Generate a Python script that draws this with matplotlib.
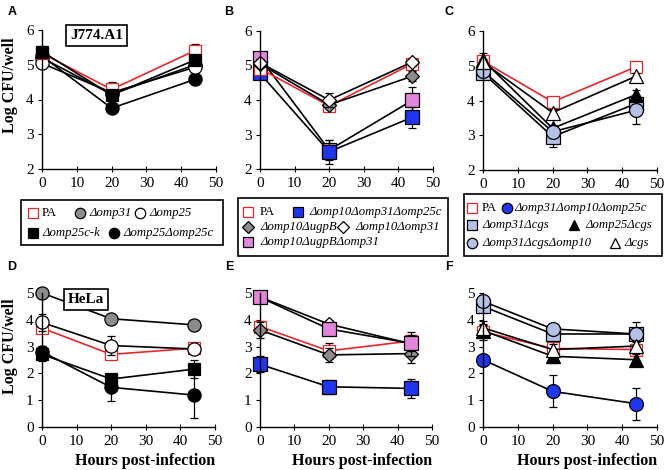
import matplotlib
matplotlib.use("Agg")
import matplotlib.pyplot as plt
from matplotlib.lines import Line2D
from matplotlib.patches import Rectangle

plt.rcParams['font.family'] = ['Liberation Serif', 'DejaVu Serif']

# sampling times (hours post-infection)
hours = [0, 20, 44]

# Panel A - J774.A1
a_pa = [5.33, 4.29, 5.41]
a_pa_err = [0.15, 0.22, 0.2]
a_omp31 = [5.2, 4.15, 5.0]
a_omp31_err = [0.1, 0.1, 0.1]
a_omp25 = [5.04, 4.2, 4.93]
a_omp25_err = [0.1, 0.1, 0.1]
a_omp25ck = [5.38, 4.13, 5.14]
a_omp25ck_err = [0.15, 0.1, 0.1]
a_omp25c = [5.25, 3.75, 4.58]
a_omp25c_err = [0.1, 0.1, 0.08]

# Panel B - J774.A1
b_pa = [4.91, 3.83, 5.05]
b_pa_err = [0.1, 0.12, 0.1]
b_tri = [4.77, 2.5, 3.5]
b_tri_err = [0.1, 0.35, 0.3]
b_ugpb = [5.05, 3.86, 4.69]
b_ugpb_err = [0.1, 0.1, 0.15]
b_o10o31 = [5.08, 4.0, 5.1]
b_o10o31_err = [0.1, 0.2, 0.1]
b_ugpbo31 = [5.22, 2.55, 3.99]
b_ugpbo31_err = [0.1, 0.3, 0.4]

# Panel C - J774.A1
c_pa = [5.13, 3.96, 4.97]
c_pa_err = [0.15, 0.1, 0.1]
c_o31cgs = [4.79, 2.96, 3.91]
c_o31cgs_err = [0.1, 0.3, 0.2]
c_o25cgs = [5.16, 3.2, 4.17]
c_o25cgs_err = [0.2, 0.1, 0.12]
c_o31cgso10 = [4.85, 3.1, 3.72]
c_o31cgso10_err = [0.1, 0.15, 0.4]
c_cgs = [5.1, 3.65, 4.7]
c_cgs_err = [0.1, 0.1, 0.1]

# Panel D - HeLa
d_pa = [3.69, 2.71, 2.94]
d_pa_err = [0.2, 0.15, 0.1]
d_omp31 = [5.0, 4.04, 3.81]
d_omp31_err = [0.1, 0.1, 0.2]
d_omp25 = [3.9, 3.04, 2.91]
d_omp25_err = [0.3, 0.35, 0.1]
d_omp25ck = [2.71, 1.79, 2.16]
d_omp25ck_err = [0.25, 0.15, 0.35]
d_omp25c = [2.81, 1.48, 1.19]
d_omp25c_err = [0.2, 0.5, 0.85]

# Panel E - HeLa
e_pa = [3.75, 2.84, 3.21]
e_pa_err = [0.2, 0.3, 0.2]
e_tri = [2.34, 1.5, 1.44]
e_tri_err = [0.3, 0.25, 0.35]
e_ugpb = [3.62, 2.69, 2.74]
e_ugpb_err = [0.3, 0.25, 0.35]
e_o10o31 = [4.85, 3.84, 3.1]
e_o10o31_err = [0.1, 0.15, 0.45]
e_ugpbo31 = [4.84, 3.66, 3.12]
e_ugpbo31_err = [0.1, 0.15, 0.3]

# Panel F - HeLa
f_pa = [3.55, 2.93, 2.89]
f_pa_err = [0.3, 0.2, 0.15]
f_tri = [2.51, 1.33, 0.87]
f_tri_err = [0.1, 0.6, 0.6]
f_o31cgs = [4.5, 3.47, 3.47]
f_o31cgs_err = [0.1, 0.1, 0.45]
f_o25cgs = [3.6, 2.64, 2.51]
f_o25cgs_err = [0.2, 0.25, 0.2]
f_o31cgso10 = [4.69, 3.66, 3.47]
f_o31cgso10_err = [0.1, 0.1, 0.2]
f_cgs = [3.7, 2.89, 3.02]
f_cgs_err = [0.25, 0.2, 0.15]

# strain name -> (marker, face, edge, line colour, size)
styles = {
    'PA': ('s', 'white', '#e8262a', '#e8262a', 9),
    'Δomp31': ('o', '#8c8c8c', 'black', 'black', 9.5),
    'Δomp25': ('o', 'white', 'black', 'black', 9.5),
    'Δomp25c-k': ('s', 'black', 'black', 'black', 9),
    'Δomp25Δomp25c': ('o', 'black', 'black', 'black', 9.5),
    'Δomp10Δomp31Δomp25c': ('s', '#1f35f0', 'black', 'black', 10),
    'Δomp10ΔugpB': ('D', '#8c8c8c', 'black', 'black', 7.5),
    'Δomp10Δomp31': ('D', 'white', 'black', 'black', 7.5),
    'Δomp10ΔugpBΔomp31': ('s', '#e385dc', 'black', 'black', 10),
    'Δomp31Δomp10Δomp25c': ('o', '#1f35f0', 'black', 'black', 10),
    'Δomp31Δcgs': ('s', '#b3c2e6', 'black', 'black', 10),
    'Δomp25Δcgs': ('^', 'black', 'black', 'black', 9.5),
    'Δomp31ΔcgsΔomp10': ('o', '#b3c2e6', 'black', 'black', 10),
    'Δcgs': ('^', 'white', 'black', 'black', 9.5),
}

fig = plt.figure(figsize=(6.66, 4.70), dpi=100)

W, H = 666.0, 470.0
def add_ax(x0, x1, ytop, ybot):
    return fig.add_axes([x0 / W, 1 - ybot / H, (x1 - x0) / W, (ybot - ytop) / H])

axA = add_ax(42, 216, 30, 169)
axB = add_ax(260, 433, 31, 169)
axC = add_ax(483, 657, 31, 170)
axD = add_ax(42, 215, 293, 427)
axE = add_ax(260, 432, 293, 427)
axF = add_ax(483, 657, 293, 427)

panels = [
    (axA, (2, 6), [('Δomp25Δomp25c', a_omp25c, a_omp25c_err),
                   ('Δomp31', a_omp31, a_omp31_err),
                   ('Δomp25', a_omp25, a_omp25_err),
                   ('PA', a_pa, a_pa_err),
                   ('Δomp25c-k', a_omp25ck, a_omp25ck_err)]),
    (axB, (2, 6), [('Δomp10ΔugpBΔomp31', b_ugpbo31, b_ugpbo31_err),
                   ('Δomp10Δomp31Δomp25c', b_tri, b_tri_err),
                   ('PA', b_pa, b_pa_err),
                   ('Δomp10ΔugpB', b_ugpb, b_ugpb_err),
                   ('Δomp10Δomp31', b_o10o31, b_o10o31_err)]),
    (axC, (2, 6), [('Δomp31Δcgs', c_o31cgs, c_o31cgs_err),
                   ('PA', c_pa, c_pa_err),
                   ('Δomp25Δcgs', c_o25cgs, c_o25cgs_err),
                   ('Δomp31ΔcgsΔomp10', c_o31cgso10, c_o31cgso10_err),
                   ('Δcgs', c_cgs, c_cgs_err)]),
    (axD, (0, 5), [('PA', d_pa, d_pa_err),
                   ('Δomp31', d_omp31, d_omp31_err),
                   ('Δomp25', d_omp25, d_omp25_err),
                   ('Δomp25c-k', d_omp25ck, d_omp25ck_err),
                   ('Δomp25Δomp25c', d_omp25c, d_omp25c_err)]),
    (axE, (0, 5), [('PA', e_pa, e_pa_err),
                   ('Δomp10Δomp31Δomp25c', e_tri, e_tri_err),
                   ('Δomp10ΔugpB', e_ugpb, e_ugpb_err),
                   ('Δomp10Δomp31', e_o10o31, e_o10o31_err),
                   ('Δomp10ΔugpBΔomp31', e_ugpbo31, e_ugpbo31_err)]),
    (axF, (0, 5), [('PA', f_pa, f_pa_err),
                   ('Δomp31Δomp10Δomp25c', f_tri, f_tri_err),
                   ('Δomp25Δcgs', f_o25cgs, f_o25cgs_err),
                   ('Δomp31Δcgs', f_o31cgs, f_o31cgs_err),
                   ('Δomp31ΔcgsΔomp10', f_o31cgso10, f_o31cgso10_err),
                   ('Δcgs', f_cgs, f_cgs_err)]),
]

for ax, ylim, series in panels:
    for name, vals, err in series:
        m, fc, ec, lc, ms = styles[name]
        ax.errorbar(hours, vals, yerr=err, fmt='none', ecolor='black',
                    elinewidth=0.9, capsize=3, capthick=0.9, clip_on=False)
        ax.plot(hours, vals, color=lc, lw=1.2, marker=m, ms=ms, mfc=fc,
                mec=ec, mew=0.9, clip_on=False)
    ax.set_xlim(0, 50)
    ax.set_ylim(*ylim)
    ax.set_xticks([0, 10, 20, 30, 40, 50])
    ax.set_yticks(range(ylim[0], ylim[1] + 1))
    for s in ['top', 'right']:
        ax.spines[s].set_visible(False)
    for s in ['left', 'bottom']:
        ax.spines[s].set_linewidth(1.0)
    ax.tick_params(axis='x', direction='inout', length=5, labelsize=11, pad=3)
    ax.tick_params(axis='y', direction='out', length=3, labelsize=11, pad=3)
    ax.set_facecolor('none')

# panel letters
for letter, px, py in [('A', 12, 12), ('B', 229, 12), ('C', 449, 12),
                       ('D', 12, 267), ('E', 229, 267), ('F', 449, 267)]:
    fig.text(px / W, 1 - py / H, letter, fontsize=9, fontweight='bold',
             family='Liberation Sans', ha='center', va='center')

for ax in [axA, axD]:
    ax.set_ylabel('Log CFU/well', fontsize=11.5, fontweight='bold')
    ax.yaxis.set_label_coords(-0.14, 0.6)
for ax in [axD, axE, axF]:
    ax.set_xlabel('Hours post-infection', fontsize=11.5, fontweight='bold',
                  loc='right', labelpad=4)

box = dict(boxstyle='square,pad=0.25', fc='white', ec='black', lw=1.2)
axA.text(0.16, 0.96, 'J774.A1', transform=axA.transAxes, fontsize=11,
         fontweight='bold', bbox=box, va='center', ha='left')
axD.text(0.15, 0.95, 'HeLa', transform=axD.transAxes, fontsize=11,
         fontweight='bold', bbox=box, va='center', ha='left')


# hand-placed legend boxes (pixel layout, top-left origin)
def draw_legend(frame, entries):
    x0, y0, x1, y1 = frame
    fig.add_artist(Rectangle((x0 / W, 1 - y1 / H), (x1 - x0) / W, (y1 - y0) / H,
                             transform=fig.transFigure, fc='white', ec='black',
                             lw=1.2))
    for name, mx, my, tx in entries:
        m, fc, ec, lc, ms = styles[name]
        lms = 6.5 if m == 'D' else 7.5
        fig.add_artist(Line2D([mx / W], [1 - my / H], transform=fig.transFigure,
                              ls='none', marker=m, ms=lms, mfc=fc, mec=ec,
                              mew=0.9))
        fig.text(tx / W, 1 - my / H, name, fontsize=9.2, va='center', ha='left',
                 fontstyle='normal' if name == 'PA' else 'italic')


draw_legend((21, 200, 223, 245),
            [('PA', 33, 213, 42), ('Δomp31', 80, 213, 89), ('Δomp25', 140, 213, 149),
             ('Δomp25c-k', 33, 233, 42), ('Δomp25Δomp25c', 114, 233, 123)])
draw_legend((238, 198, 448, 256),
            [('PA', 248, 212, 260), ('Δomp10Δomp31Δomp25c', 298, 212, 309),
             ('Δomp10ΔugpB', 248, 227, 260), ('Δomp10Δomp31', 343, 227, 355),
             ('Δomp10ΔugpBΔomp31', 248, 242, 260)])
draw_legend((464, 194, 662, 256),
            [('PA', 472, 208, 482), ('Δomp31Δomp10Δomp25c', 507, 208, 514),
             ('Δomp31Δcgs', 472, 225, 482), ('Δomp25Δcgs', 574, 225, 585),
             ('Δomp31ΔcgsΔomp10', 472, 243, 482), ('Δcgs', 615, 243, 624)])

fig.savefig('out.png', dpi=100)
